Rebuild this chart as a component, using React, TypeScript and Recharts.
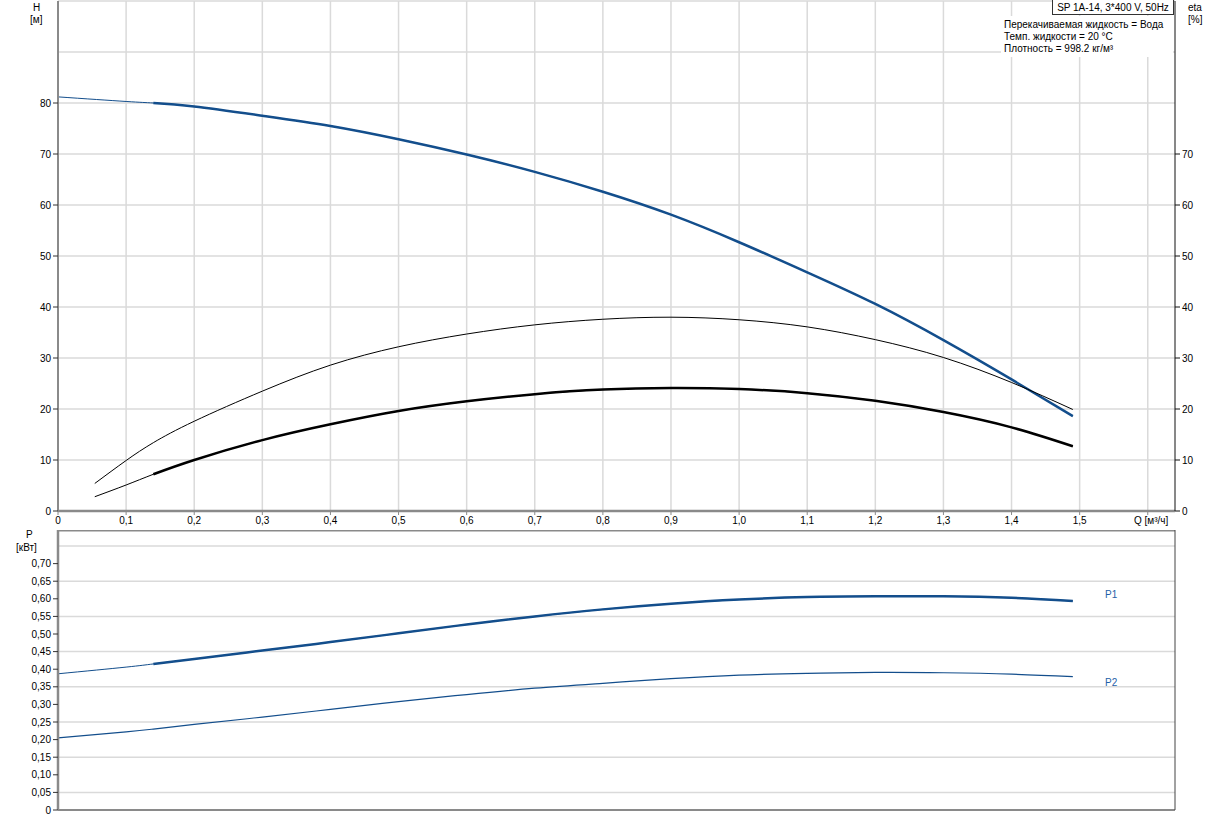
import { CartesianGrid, Line, LineChart, ReferenceLine, XAxis, YAxis } from "recharts";

// Q, м³/ч
const headQ = [0, 0.1, 0.14, 0.2, 0.3, 0.4, 0.5, 0.6, 0.7, 0.8, 0.9, 1.0, 1.1, 1.2, 1.3, 1.4, 1.49];
const headM = [81.2, 80.3, 80.0, 79.3, 77.5, 75.5, 72.9, 69.9, 66.5, 62.6, 58.1, 52.7, 46.8, 40.6, 33.5, 25.8, 18.6];

const etaQ = [0.054, 0.1, 0.14, 0.2, 0.3, 0.4, 0.5, 0.6, 0.7, 0.8, 0.9, 1.0, 1.1, 1.2, 1.3, 1.4, 1.49];
const etaPump = [5.4, 9.9, 13.4, 17.6, 23.5, 28.6, 32.2, 34.7, 36.5, 37.6, 38.0, 37.5, 36.1, 33.6, 30.1, 25.2, 19.9];
const etaTotal = [2.8, 5.1, 7.2, 10.0, 13.9, 17.0, 19.6, 21.5, 22.9, 23.8, 24.1, 23.9, 23.1, 21.6, 19.4, 16.4, 12.7];

const powerQ = [0, 0.1, 0.14, 0.2, 0.3, 0.4, 0.5, 0.6, 0.7, 0.8, 0.9, 1.0, 1.1, 1.2, 1.3, 1.4, 1.49];
const powerP1 = [0.387, 0.406, 0.415, 0.429, 0.453, 0.477, 0.502, 0.527, 0.55, 0.57, 0.586, 0.598, 0.605, 0.607, 0.607, 0.603, 0.594];
const powerP2 = [0.205, 0.222, 0.23, 0.243, 0.264, 0.286, 0.308, 0.328, 0.346, 0.36, 0.373, 0.383, 0.388, 0.391, 0.39, 0.386, 0.379];

// duty range starts here, curves are drawn thick from this point on
const dutyStart = 0.14;

const qTicks = [0, 0.1, 0.2, 0.3, 0.4, 0.5, 0.6, 0.7, 0.8, 0.9, 1.0, 1.1, 1.2, 1.3, 1.4, 1.5, 1.6];
const headTicks = [0, 10, 20, 30, 40, 50, 60, 70, 80];
const headGrid = [0, 10, 20, 30, 40, 50, 60, 70, 80, 90, 100];
const etaTicks = [0, 10, 20, 30, 40, 50, 60, 70];
const powerTicks = [0, 0.05, 0.1, 0.15, 0.2, 0.25, 0.3, 0.35, 0.4, 0.45, 0.5, 0.55, 0.6, 0.65, 0.7];
const powerGrid = [0, 0.05, 0.1, 0.15, 0.2, 0.25, 0.3, 0.35, 0.4, 0.45, 0.5, 0.55, 0.6, 0.65, 0.7, 0.75];
const powerMax = 0.7955;

const infoLines = ["Перекачиваемая жидкость = Вода", "Темп. жидкости = 20 °C", "Плотность = 998.2 кг/м³"];

const FONT = "'Liberation Sans', Arial, sans-serif";
const BLUE = "#134e8c";
const GRID = "#dadada";
const AXIS = "#8a8a8a";

const toPoints = (qs: number[], vs: number[]) => qs.map((q, i) => ({ q, v: vs[i] }));
const fromDuty = (pts: { q: number; v: number }[]) => pts.filter((p) => p.q >= dutyStart);

const fmtQ = (v: number) => (v === 0 ? "0" : v >= 1.55 ? "" : v.toFixed(1).replace(".", ","));
const fmtP = (v: number) => (v === 0 ? "0" : v.toFixed(2).replace(".", ","));

const tickStyle = { fill: "#000", fontSize: 10, fontFamily: FONT };

const head = toPoints(headQ, headM);
const eta1 = toPoints(etaQ, etaPump);
const eta2 = toPoints(etaQ, etaTotal);
const p1 = toPoints(powerQ, powerP1);
const p2 = toPoints(powerQ, powerP2);

function Label({ x, y, children, color = "#000" }: any) {
  return (
    <div
      style={{
        position: "absolute",
        left: x,
        top: y,
        fontSize: 10,
        lineHeight: "12px",
        color,
        fontFamily: FONT,
        whiteSpace: "nowrap",
      }}
    >
      {children}
    </div>
  );
}

export default function App() {
  return (
    <div style={{ position: "absolute", left: 0, top: 0, width: 1217, height: 819, background: "#fff", fontFamily: FONT }}>
      <div style={{ position: "absolute", left: 0, top: 0 }}>
        <LineChart width={1217} height={530} margin={{ top: 1, right: 0, bottom: 0, left: 0 }}>
          <CartesianGrid stroke={GRID} strokeWidth={1.5} horizontalValues={headGrid} verticalValues={qTicks} />
          <XAxis
            dataKey="q"
            type="number"
            domain={[0, 1.64]}
            ticks={qTicks}
            allowDataOverflow
            height={19}
            tickFormatter={fmtQ}
            tick={tickStyle}
            tickSize={4}
            tickMargin={2}
            stroke={AXIS}
            axisLine={{ stroke: AXIS, strokeWidth: 2.5 }}
            tickLine={{ stroke: AXIS }}
          />
          <YAxis
            width={58}
            domain={[0, 100]}
            ticks={headTicks}
            tick={tickStyle}
            tickSize={5}
            axisLine={{ stroke: AXIS, strokeWidth: 2 }}
            tickLine={{ stroke: "#333" }}
          />
          <YAxis
            yAxisId="eta"
            orientation="right"
            width={42}
            domain={[0, 100]}
            ticks={etaTicks}
            tick={tickStyle}
            tickSize={5}
            axisLine={{ stroke: "#111", strokeWidth: 1 }}
            tickLine={{ stroke: "#111" }}
          />
          <Line data={head} dataKey="v" type="natural" stroke={BLUE} strokeWidth={1} dot={false} isAnimationActive={false} />
          <Line data={fromDuty(head)} dataKey="v" type="natural" stroke={BLUE} strokeWidth={2.5} dot={false} isAnimationActive={false} />
          <Line data={eta1} yAxisId="eta" dataKey="v" type="natural" stroke="#000" strokeWidth={1} dot={false} isAnimationActive={false} />
          <Line data={eta2} yAxisId="eta" dataKey="v" type="natural" stroke="#000" strokeWidth={1} dot={false} isAnimationActive={false} />
          <Line data={fromDuty(eta2)} yAxisId="eta" dataKey="v" type="natural" stroke="#000" strokeWidth={2.5} dot={false} isAnimationActive={false} />
        </LineChart>
      </div>

      <div style={{ position: "absolute", left: 0, top: 530 }}>
        <LineChart width={1217} height={289} margin={{ top: 0, right: 0, bottom: 0, left: 0 }}>
          <CartesianGrid stroke={GRID} strokeWidth={1.5} horizontalValues={powerGrid} verticalValues={qTicks} />
          <XAxis
            dataKey="q"
            type="number"
            domain={[0, 1.64]}
            ticks={qTicks}
            allowDataOverflow
            height={9}
            tick={false}
            tickLine={false}
            axisLine={{ stroke: AXIS, strokeWidth: 2 }}
          />
          <YAxis
            width={58}
            domain={[0, powerMax]}
            ticks={powerTicks}
            allowDataOverflow
            tickFormatter={fmtP}
            tick={tickStyle}
            tickSize={5}
            axisLine={{ stroke: AXIS, strokeWidth: 2.5 }}
            tickLine={{ stroke: "#333" }}
          />
          <YAxis yAxisId="r" orientation="right" width={42} domain={[0, powerMax]} tick={false} tickLine={false} axisLine={{ stroke: "#444" }} />
          <ReferenceLine y={powerMax} stroke={AXIS} strokeWidth={3} ifOverflow="extendDomain" />
          <Line data={p1} dataKey="v" type="natural" stroke={BLUE} strokeWidth={1} dot={false} isAnimationActive={false} />
          <Line data={fromDuty(p1)} dataKey="v" type="natural" stroke={BLUE} strokeWidth={2.5} dot={false} isAnimationActive={false} />
          <Line data={p2} dataKey="v" type="natural" stroke={BLUE} strokeWidth={1.2} dot={false} isAnimationActive={false} />
        </LineChart>
      </div>

      <Label x={33} y={2}>H</Label>
      <Label x={30} y={14}>[м]</Label>
      <Label x={1188} y={2}>eta</Label>
      <Label x={1188} y={14}>[%]</Label>
      <Label x={1134} y={515}>Q [м³/ч]</Label>
      <Label x={26} y={529}>P</Label>
      <Label x={16} y={542}>[кВт]</Label>
      <Label x={1105} y={589} color="#1f5fa8">P1</Label>
      <Label x={1105} y={677} color="#1f5fa8">P2</Label>

      <div
        style={{
          position: "absolute",
          left: 1052,
          top: -1,
          width: 120,
          height: 14,
          border: "1px solid #333",
          background: "#fff",
          fontSize: 10,
          lineHeight: "15px",
          textAlign: "center",
          fontFamily: FONT,
        }}
      >
        SP 1A-14, 3*400 V, 50Hz
      </div>
      <div style={{ position: "absolute", left: 1001, top: 16, width: 172, height: 41, background: "#fff" }}>
        {infoLines.map((t, i) => (
          <Label key={t} x={3} y={3 + i * 12}>
            {t}
          </Label>
        ))}
      </div>
    </div>
  );
}
